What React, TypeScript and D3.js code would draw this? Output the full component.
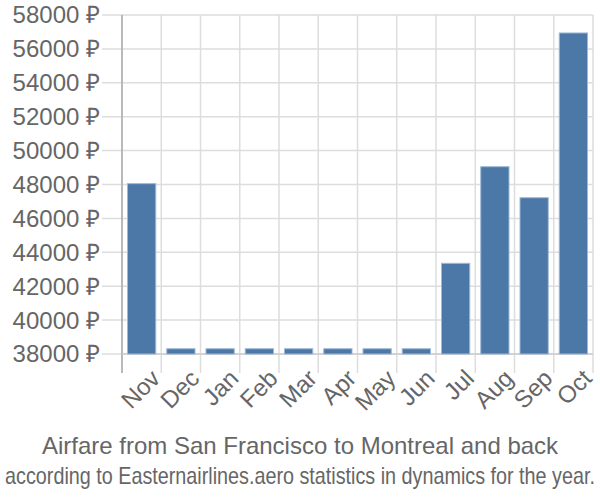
import React, { useRef, useEffect } from 'react';
import * as d3 from 'd3';

const months = ['Nov', 'Dec', 'Jan', 'Feb', 'Mar', 'Apr', 'May', 'Jun', 'Jul', 'Aug', 'Sep', 'Oct'];
const prices = [48050, 38310, 38310, 38310, 38310, 38310, 38310, 38310, 43350, 49050, 47220, 56940];
const yTicks = [38000, 40000, 42000, 44000, 46000, 48000, 50000, 52000, 54000, 56000, 58000];
const title = 'Airfare from San Francisco to Montreal and back';
const subtitle = 'according to Easternairlines.aero statistics in dynamics for the year.';

const W = 600;
const H = 500;
const margin = { top: 15, right: 7, bottom: 146, left: 122 };
const font = 'Liberation Sans, Arial, sans-serif';

const App: React.FC = () => {
  const svgRef = useRef<SVGSVGElement>(null);

  useEffect(() => {
    if (!svgRef.current) return;
    const svg = d3.select(svgRef.current);
    svg.selectAll('*').remove();

    const innerW = W - margin.left - margin.right;
    const innerH = H - margin.top - margin.bottom;

    const x = d3.scaleBand<string>().domain(months).range([0, innerW]).paddingInner(0.28).paddingOuter(0.14);
    const xGrid = d3.scaleBand<string>().domain(months).range([0, innerW]);
    const y = d3.scaleLinear().domain([38000, 58000]).range([innerH, 0]);

    const g = svg.append('g').attr('transform', `translate(${margin.left},${margin.top})`);

    // horizontal grid + tick marks
    g.selectAll('line.hgrid')
      .data(yTicks)
      .enter()
      .append('line')
      .attr('x1', -20)
      .attr('x2', innerW)
      .attr('y1', d => y(d))
      .attr('y2', d => y(d))
      .attr('stroke', '#ddd')
      .attr('stroke-width', 1.5);

    // vertical grid at band boundaries
    const bounds = months.map(m => xGrid(m) as number).concat([innerW]);
    g.selectAll('line.vgrid')
      .data(bounds)
      .enter()
      .append('line')
      .attr('x1', d => d)
      .attr('x2', d => d)
      .attr('y1', 0)
      .attr('y2', innerH + 19)
      .attr('stroke', '#ddd')
      .attr('stroke-width', 1.5);

    // axes lines
    g.append('line').attr('x1', 0).attr('x2', 0).attr('y1', 0).attr('y2', innerH + 19)
      .attr('stroke', '#aaa').attr('stroke-width', 1.5);
    g.append('line').attr('x1', 0).attr('x2', innerW).attr('y1', innerH).attr('y2', innerH)
      .attr('stroke', '#ccc').attr('stroke-width', 1.5);

    // bars
    g.selectAll('rect.bar')
      .data(prices)
      .enter()
      .append('rect')
      .attr('x', (_, i) => x(months[i]) as number)
      .attr('width', x.bandwidth())
      .attr('y', d => y(d))
      .attr('height', d => innerH - y(d))
      .attr('fill', '#4c78a8')
      .attr('stroke', '#9fb8d4')
      .attr('stroke-width', 1);

    // y labels
    g.selectAll('text.ylab')
      .data(yTicks)
      .enter()
      .append('text')
      .attr('x', -22)
      .attr('y', d => y(d))
      .attr('dy', '0.35em')
      .attr('text-anchor', 'end')
      .attr('font-family', font)
      .attr('font-size', 24)
      .attr('fill', '#666')
      .text(d => `${d} ₽`);

    // x labels
    g.selectAll('text.xlab')
      .data(months)
      .enter()
      .append('text')
      .attr('transform', d => `translate(${(xGrid(d) as number) + xGrid.bandwidth() / 2 + 8},${innerH + 14}) rotate(-45)`)
      .attr('text-anchor', 'end')
      .attr('dy', '0.7em')
      .attr('font-family', font)
      .attr('font-size', 24)
      .attr('fill', '#666')
      .text(d => d);

    svg.append('text')
      .attr('x', W / 2)
      .attr('y', 454)
      .attr('text-anchor', 'middle')
      .attr('font-family', font)
      .attr('font-size', 24)
      .attr('fill', '#666')
      .text(title);

    // subtitle squeezed horizontally to fit the width
    const sub = svg.append('g');
    const subText = sub.append('text')
      .attr('x', 0)
      .attr('y', 0)
      .attr('text-anchor', 'middle')
      .attr('font-family', font)
      .attr('font-size', 23)
      .attr('fill', '#666')
      .text(subtitle);
    const natural = (subText.node() as SVGTextElement).getComputedTextLength() || 1;
    const sx = Math.min(1, 590 / natural);
    sub.attr('transform', `translate(${W / 2},484) scale(${sx},1)`);
  }, []);

  return (
    <svg ref={svgRef} width={W} height={H} style={{ position: 'absolute', left: 0, top: 0 }} />
  );
};

export default App;
